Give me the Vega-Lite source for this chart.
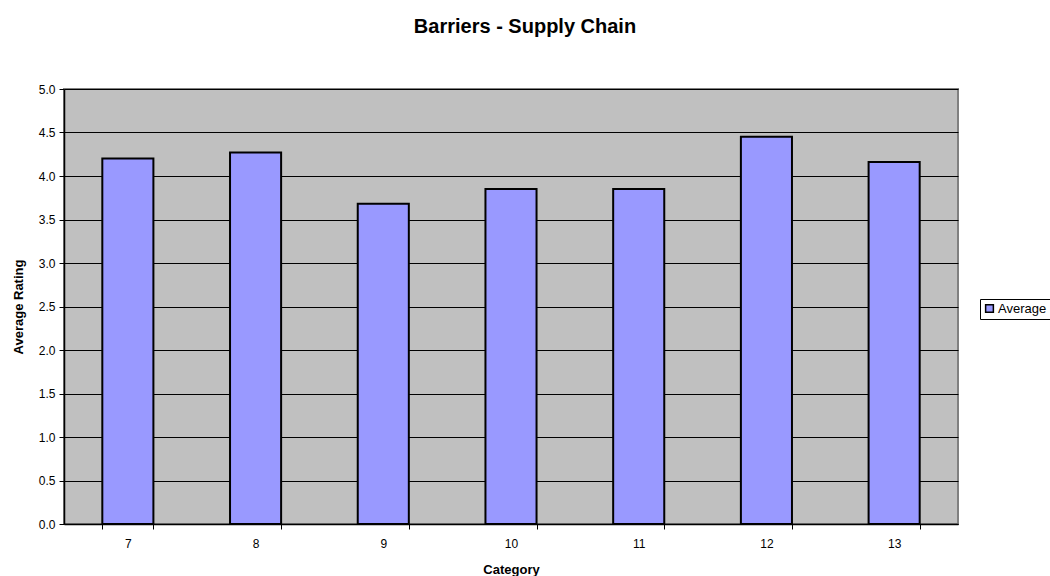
{
  "$schema": "https://vega.github.io/schema/vega-lite/v6.json",
  "width": 894,
  "height": 435,
  "autosize": {"type": "none"},
  "padding": {"left": 64, "top": 89, "right": 92, "bottom": 52},
  "background": "white",
  "title": {
    "text": "Barriers - Supply Chain",
    "font": "Liberation Sans",
    "fontSize": 20,
    "fontWeight": "bold",
    "color": "black",
    "anchor": "middle",
    "dx": 14,
    "offset": 46
  },
  "config": {
    "view": {"fill": "#C0C0C0", "stroke": "#808080", "strokeWidth": 2},
    "font": "Liberation Sans"
  },
  "data": {
    "values": [
      {"category": "7", "rating": 4.2, "series": "Average"},
      {"category": "8", "rating": 4.27, "series": "Average"},
      {"category": "9", "rating": 3.68, "series": "Average"},
      {"category": "10", "rating": 3.85, "series": "Average"},
      {"category": "11", "rating": 3.85, "series": "Average"},
      {"category": "12", "rating": 4.45, "series": "Average"},
      {"category": "13", "rating": 4.16, "series": "Average"}
    ]
  },
  "mark": {"type": "bar", "stroke": "black", "strokeWidth": 2},
  "encoding": {
    "x": {
      "field": "category",
      "type": "ordinal",
      "sort": null,
      "scale": {"paddingInner": 0.6, "paddingOuter": 0.3},
      "axis": {
        "title": "Category",
        "titleFont": "Liberation Sans",
        "titleFontSize": 13,
        "titleFontWeight": "bold",
        "titleColor": "black",
        "titlePadding": 14,
        "labelAngle": 0,
        "labelFontSize": 12,
        "labelColor": "black",
        "labelPadding": 9,
        "tickBand": "extent",
        "tickSize": 5,
        "tickColor": "black",
        "domainColor": "black",
        "domainWidth": 1.5,
        "grid": false
      }
    },
    "y": {
      "field": "rating",
      "type": "quantitative",
      "scale": {"domain": [0, 5], "nice": false},
      "axis": {
        "title": "Average Rating",
        "titleFont": "Liberation Sans",
        "titleFontSize": 13,
        "titleFontWeight": "bold",
        "titleColor": "black",
        "titlePadding": 13,
        "values": [0, 0.5, 1, 1.5, 2, 2.5, 3, 3.5, 4, 4.5, 5],
        "format": ".1f",
        "labelFontSize": 12,
        "labelColor": "black",
        "labelPadding": 4,
        "tickSize": 5,
        "tickColor": "black",
        "domainColor": "black",
        "domainWidth": 1.5,
        "grid": true,
        "gridColor": "black",
        "gridWidth": 1
      }
    },
    "color": {
      "field": "series",
      "type": "nominal",
      "scale": {"range": ["#9999FF"]},
      "legend": {
        "title": null,
        "orient": "none",
        "legendX": 916,
        "legendY": 210,
        "symbolType": "square",
        "symbolSize": 60,
        "symbolStrokeColor": "black",
        "symbolStrokeWidth": 1.5,
        "symbolOpacity": 1,
        "labelFontSize": 13,
        "labelColor": "black",
        "labelOffset": 2,
        "strokeColor": "black",
        "padding": 3,
        "fillColor": "white"
      }
    }
  }
}
